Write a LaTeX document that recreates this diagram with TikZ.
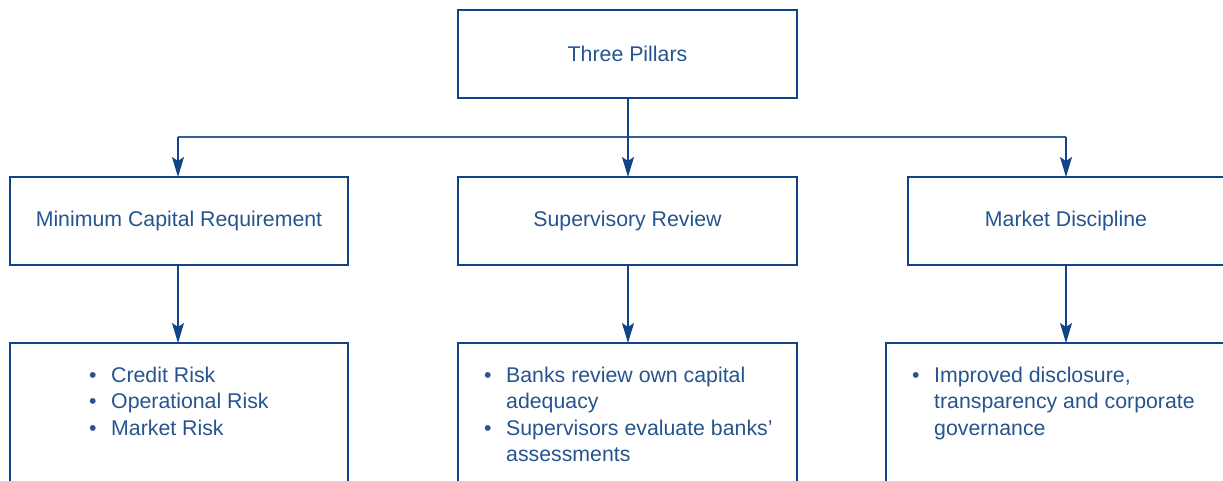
\documentclass[tikz,border=0pt]{standalone}
\usepackage{fontspec}
\setmainfont{Liberation Sans}
\usetikzlibrary{arrows.meta}
\definecolor{boxblue}{RGB}{16,68,134}
\definecolor{txtblue}{RGB}{38,84,142}
\tikzset{
  x=1pt, y=-1pt,
  boxline/.style={draw=boxblue, line width=2.6pt, outer sep=0pt},
  conn/.style={draw=boxblue, line width=1.4pt, -{Stealth[length=20pt,width=12pt,inset=4pt]}},
  hline/.style={draw=boxblue!85, line width=1.4pt},
  lbl/.style={text=txtblue, font=\fontsize{21.3}{26.5}\selectfont, inner sep=0pt},
  blist/.style={text=txtblue, font=\fontsize{21.3}{26.5}\selectfont, inner sep=0pt, anchor=base west}
}
\newcommand{\bl}{\makebox[22pt][l]{•}}
\newcommand{\ind}{\hspace{22pt}}
\begin{document}
\begin{tikzpicture}
\useasboundingbox (0,0) rectangle (1223,481);
\clip (0,0) rectangle (1223,481);
% boxes
\node[boxline, minimum width=339pt, minimum height=88pt, anchor=north west] (top) at (458,10) {};
\node[lbl] (toptxt) at (627.5,54) {Three Pillars};

\node[boxline, minimum width=338pt, minimum height=88pt, anchor=north west] (mcr) at (10,177) {};
\node[lbl] at (179,221) {Minimum Capital Requirement};
\node[boxline, minimum width=339pt, minimum height=88pt, anchor=north west] (sr) at (458,177) {};
\node[lbl] at (627.5,221) {Supervisory Review};
\node[boxline, minimum width=340pt, minimum height=88pt, anchor=north west] (md) at (908,177) {};
\node[lbl] at (1066,221) {Market Discipline};

\node[boxline, minimum width=338pt, minimum height=180pt, anchor=north west] (b1) at (10,343) {};
\node[boxline, minimum width=339pt, minimum height=180pt, anchor=north west] (b2) at (458,343) {};
\node[boxline, minimum width=360pt, minimum height=180pt, anchor=north west] (b3) at (886,343) {};

% bullet texts
\node[blist] (t1) at (89,382) {\begin{tabular}[t]{@{}l@{}l@{}}\bl&Credit Risk\\ \bl&Operational Risk\\ \bl&Market Risk\end{tabular}};
\node[blist] (t2) at (484,382) {\begin{tabular}[t]{@{}l@{}l@{}}\bl&Banks review own capital\\ &adequacy\\ \bl&Supervisors evaluate banks’\\ &assessments\end{tabular}};
\node[blist] (t3) at (912,382) {\begin{tabular}[t]{@{}l@{}l@{}}\bl&Improved disclosure,\\ \multicolumn{2}{@{}l@{}}{\ind transparency and corporate}\\ \multicolumn{2}{@{}l@{}}{\ind governance}\end{tabular}};

% connectors
\coordinate (jL) at (178,137);
\coordinate (jM) at (628,137);
\coordinate (jR) at (1066,137);
\draw[hline] (jL) -- (jR);
\draw[draw=boxblue, line width=1.4pt] (top.south -| jM) -- (jM);
\draw[conn] (jL) -- (jL |- mcr.north);
\draw[conn] (jM) -- (jM |- sr.north);
\draw[conn] (jR) -- (jR |- md.north);
\draw[conn] (mcr.south -| jL) -- (jL |- b1.north);
\draw[conn] (sr.south -| jM) -- (jM |- b2.north);
\draw[conn] (md.south -| jR) -- (jR |- b3.north);
\end{tikzpicture}
\end{document}
